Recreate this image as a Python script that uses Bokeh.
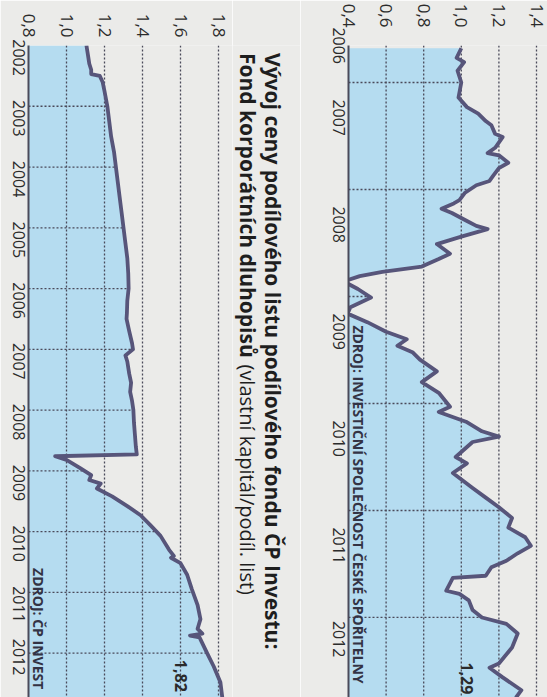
import math
import numpy as np
from bokeh.plotting import figure
from bokeh.layouts import row
from bokeh.models import Range1d, FixedTicker, CustomJSTickFormatter, Label
from bokeh.embed import file_html
from bokeh.resources import INLINE

# ---------------- data ----------------
# Left chart: ČP Invest – Fond korporátních dluhopisů (time in fractional years)
cp_years = [2002.00, 2002.10, 2002.20, 2002.30, 2002.40, 2002.47, 2002.50, 2002.60, 2002.75,
            2003.00, 2003.25, 2003.50, 2003.75, 2004.00, 2004.25, 2004.50, 2004.75, 2005.00,
            2005.25, 2005.50, 2005.75, 2006.00, 2006.20, 2006.40, 2006.50, 2006.70, 2006.90,
            2007.00, 2007.10, 2007.20, 2007.40, 2007.55, 2007.70, 2007.85, 2008.00, 2008.20,
            2008.40, 2008.60, 2008.73, 2008.76, 2008.82, 2008.95, 2009.07, 2009.15, 2009.21,
            2009.29, 2009.42, 2009.58, 2009.73, 2009.89, 2010.07, 2010.30, 2010.40, 2010.43,
            2010.52, 2010.71, 2010.95, 2011.21, 2011.44, 2011.60, 2011.68, 2011.71, 2011.74,
            2012.00, 2012.22, 2012.48, 2012.73]
cp_values = [1.105, 1.110, 1.115, 1.120, 1.130, 1.130, 1.175, 1.190, 1.200,
             1.215, 1.225, 1.235, 1.250, 1.260, 1.270, 1.280, 1.290, 1.300,
             1.310, 1.320, 1.325, 1.327, 1.320, 1.318, 1.316, 1.330, 1.345,
             1.350, 1.310, 1.320, 1.330, 1.340, 1.335, 1.345, 1.352, 1.355,
             1.360, 1.365, 1.370, 0.940, 1.000, 1.070, 1.130, 1.120, 1.180,
             1.160, 1.240, 1.320, 1.390, 1.440, 1.495, 1.540, 1.565, 1.550,
             1.600, 1.635, 1.660, 1.690, 1.705, 1.690, 1.715, 1.650, 1.700,
             1.740, 1.775, 1.810, 1.820]
cp_year_labels = list(range(2002, 2013))
cp_value_ticks = [0.8, 1.0, 1.2, 1.4, 1.6, 1.8]
cp_last_label = "1,82"
cp_source = "ZDROJ: ČP INVEST"

# Right chart: fund of Investiční společnost České spořitelny
cs_years = [2006.68, 2006.77, 2006.81, 2006.89, 2007.00, 2007.14, 2007.23, 2007.29, 2007.36,
            2007.40, 2007.48, 2007.51, 2007.61, 2007.66, 2007.68, 2007.75, 2007.80, 2007.87,
            2007.92, 2007.96, 2008.03, 2008.10, 2008.13, 2008.18, 2008.22, 2008.29, 2008.34,
            2008.37, 2008.44, 2008.51, 2008.60, 2008.65, 2008.72, 2008.77, 2008.81, 2008.86,
            2008.93, 2009.01, 2009.10, 2009.16, 2009.24, 2009.33, 2009.40, 2009.46, 2009.52,
            2009.59, 2009.70, 2009.80, 2009.90, 2010.03, 2010.08, 2010.17, 2010.26, 2010.31,
            2010.36, 2010.50, 2010.56, 2010.65, 2010.79, 2010.88, 2010.97, 2011.07, 2011.16,
            2011.25, 2011.33, 2011.40, 2011.47, 2011.53, 2011.61, 2011.63, 2011.75, 2011.78,
            2011.84, 2011.93, 2012.00, 2012.06, 2012.15, 2012.28, 2012.43, 2012.47, 2012.56,
            2012.68, 2012.75]
cs_values = [1.000, 0.975, 1.015, 0.980, 1.000, 0.985, 1.030, 1.090, 1.130,
             1.160, 1.180, 1.220, 1.180, 1.140, 1.200, 1.250, 1.200, 1.170,
             1.150, 1.080, 1.020, 0.990, 0.960, 0.895, 0.950, 1.025, 1.080,
             1.140, 1.000, 0.870, 0.940, 0.880, 0.790, 0.580, 0.460, 0.375,
             0.450, 0.520, 0.410, 0.395, 0.500, 0.600, 0.710, 0.660, 0.740,
             0.780, 0.870, 0.790, 0.880, 0.940, 0.880, 1.025, 1.110, 1.200,
             1.060, 0.970, 1.030, 0.955, 1.060, 1.130, 1.200, 1.270, 1.250,
             1.340, 1.370, 1.300, 1.240, 1.160, 1.130, 0.955, 0.920, 0.990,
             1.040, 1.060, 1.110, 1.240, 1.300, 1.270, 1.200, 1.150, 1.220,
             1.320, 1.290]
cs_year_labels = list(range(2006, 2013))
cs_value_ticks = [0.4, 0.6, 0.8, 1.0, 1.2, 1.4]
cs_last_label = "1,29"
cs_source = "ZDROJ: INVESTIČNÍ SPOLEČNOST ČESKÉ SPOŘITELNY"

title_line1 = "Vývoj ceny podílového listu podílového fondu ČP Investu:"
title_line2_bold = "Fond korporátních dluhopisů"
title_line2_rest = "(vlastní kapitál/podíl. list)"

# ---------------- style ----------------
PAPER = "#ebebe9"
FILL = "#b5dcf0"
LINE = "#57557a"
GRID = "#4a4a5a"
TEXT = "#2b2b2b"
FONT = "Open Sans"
H = 697
DOWN = -math.pi / 2


def make_chart(width, left_border, top_border, base, px_per_unit, t_start, t_end,
               years, values, year_labels, value_ticks, last_label, source,
               last_dx, last_dy, src_dx, src_t, label_standoff):
    x_end = base + (width - left_border) / px_per_unit
    p = figure(width=width, height=H, x_range=Range1d(base, x_end),
               y_range=Range1d(t_end, t_start), x_axis_location="above",
               output_backend="svg", toolbar_location=None,
               min_border_left=left_border, min_border_right=0,
               min_border_top=top_border, min_border_bottom=0)
    p.background_fill_color = PAPER
    p.border_fill_color = PAPER
    p.outline_line_color = None
    p.xgrid.grid_line_color = None
    p.ygrid.grid_line_color = None

    xa = p.xaxis[0]
    xa.ticker = FixedTicker(ticks=value_ticks)
    xa.formatter = CustomJSTickFormatter(code="return tick.toFixed(1).replace('.', ',');")
    xa.major_label_orientation = DOWN
    xa.axis_line_color = None
    xa.major_tick_line_color = None
    xa.minor_tick_line_color = None
    xa.major_label_standoff = label_standoff
    xa.major_label_text_font = FONT
    xa.major_label_text_font_size = "17px"
    xa.major_label_text_color = TEXT

    ticks = [(max(y, t_start) + min(y + 1, t_end)) / 2 for y in year_labels]
    ya = p.yaxis[0]
    ya.ticker = FixedTicker(ticks=ticks)
    ya.formatter = CustomJSTickFormatter(code="return Math.floor(tick + 1e-9).toString();")
    ya.major_label_orientation = DOWN
    ya.axis_line_color = GRID
    ya.axis_line_width = 2
    ya.major_tick_line_color = None
    ya.minor_tick_line_color = None
    ya.major_label_standoff = 4
    ya.major_label_text_font = FONT
    ya.major_label_text_font_size = "16px"
    ya.major_label_text_color = TEXT

    yrs = np.array(years)
    vals = np.array(values)
    p.harea(x1=base, x2=vals, y=yrs, fill_color=FILL)

    # year boundaries (only under the curve)
    bounds = np.array([y for y in year_labels if t_start < y < t_end], dtype=float)
    bvals = np.interp(bounds, yrs, vals)
    p.segment(x0=base, y0=bounds, x1=bvals, y1=bounds, line_color=GRID,
              line_width=1.3, line_dash="2 2")
    # value grid lines
    vt = np.array(value_ticks[1:])
    p.segment(x0=vt, y0=t_start, x1=vt, y1=t_end, line_color=GRID,
              line_width=1.3, line_dash="2 2")

    p.line(vals, yrs, line_color=LINE, line_width=3.8, line_join="round")

    p.add_layout(Label(x=vals[-1] + last_dx, y=yrs[-1] + last_dy, text=last_label,
                       angle=DOWN, text_align="left", text_baseline="middle",
                       text_font=FONT, text_font_style="bold",
                       text_font_size="16px", text_color=TEXT))
    p.add_layout(Label(x=base + src_dx, y=src_t, text=source,
                       angle=DOWN, text_align="left", text_baseline="middle",
                       text_font=FONT, text_font_style="bold",
                       text_font_size="14px", text_color="#333344"))
    return p


left = make_chart(232, 28, 35, 0.8, 190.0, 2002.0, 2012.73,
                  cp_years, cp_values, cp_year_labels, cp_value_ticks,
                  cp_last_label, cp_source, -0.215, -0.62, 0.053, 2010.60, 2)
right = make_chart(247, 48, 45, 0.4, 188.0, 2006.654, 2012.748,
                   cs_years, cs_values, cs_year_labels, cs_value_ticks,
                   cs_last_label, cs_source, -0.26, -0.33, 0.055, 2009.27, 12)

mid = figure(width=68, height=H, x_range=Range1d(0, 68), y_range=Range1d(H, 0),
             output_backend="svg", toolbar_location=None,
             min_border_left=0, min_border_right=0, min_border_top=0, min_border_bottom=0)
mid.axis.visible = False
mid.xgrid.grid_line_color = None
mid.ygrid.grid_line_color = None
mid.background_fill_color = PAPER
mid.border_fill_color = PAPER
mid.outline_line_color = None
mid.add_layout(Label(x=40, y=8, text=title_line1, angle=DOWN, text_align="left",
                     text_baseline="middle", text_font=FONT, text_font_style="bold",
                     text_font_size="21px", text_color="#1e1e1e"))
mid.add_layout(Label(x=15, y=8, text=title_line2_bold, angle=DOWN, text_align="left",
                     text_baseline="middle", text_font=FONT, text_font_style="bold",
                     text_font_size="21px", text_color="#1e1e1e"))
mid.add_layout(Label(x=15, y=341, text=title_line2_rest, angle=DOWN, text_align="left",
                     text_baseline="middle", text_font=FONT, text_font_style="normal",
                     text_font_size="20px", text_color="#1e1e1e"))

layout = row(left, mid, right)
open("out.html", "w").write(file_html(layout, INLINE))
